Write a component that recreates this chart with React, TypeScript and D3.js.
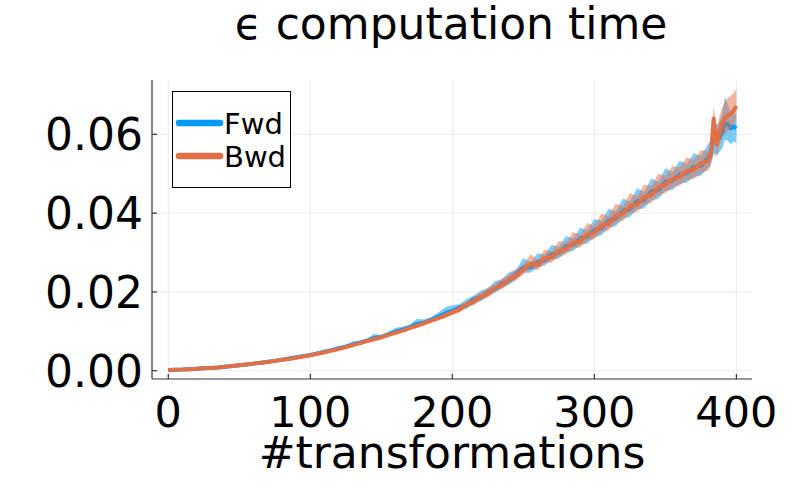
import React from "react";
import * as d3 from "d3";

const title = "ϵ computation time";
const xLabel = "#transformations";
const seriesNames = ["Fwd", "Bwd"];
const xTicks = [0, 100, 200, 300, 400];
const yTicks = [0.0, 0.02, 0.04, 0.06];
const yTickLabels = ["0.00", "0.02", "0.04", "0.06"];

const xs = [
  0, 5, 10, 15, 20, 25, 30, 35, 40, 45, 50, 55, 60, 65, 70, 75, 80, 85, 90, 95,
  100, 105, 110, 115, 120, 125, 130, 135, 140, 145, 150, 155, 160, 165, 170, 175, 180, 185, 190, 195,
  200, 205, 210, 215, 220, 225, 230, 235, 240, 245, 250, 255, 260, 265, 270, 275, 280, 285, 290, 295,
  300, 305, 310, 315, 320, 325, 330, 335, 340, 345, 350, 355, 360, 365, 370, 375, 380,
  382, 384, 386, 388, 390, 392, 394, 396, 398, 400,
];

const bwdMean = [
  0.0002, 0.00025, 0.0003, 0.0004, 0.0005, 0.0006, 0.0007, 0.0008, 0.001, 0.0012,
  0.0014, 0.0016, 0.0018, 0.002, 0.0022, 0.0025, 0.0028, 0.003, 0.0033, 0.0036,
  0.0039, 0.0043, 0.0047, 0.0051, 0.0055, 0.006, 0.0065, 0.007, 0.0075, 0.008,
  0.0085, 0.0091, 0.0096, 0.0102, 0.0108, 0.0114, 0.012, 0.0127, 0.0133, 0.014,
  0.0148, 0.0155, 0.0168, 0.0174, 0.0188, 0.0195, 0.021, 0.0217, 0.0233, 0.024,
  0.0256, 0.0272, 0.0268, 0.0286, 0.0288, 0.0304, 0.0309, 0.0325, 0.0328, 0.0346,
  0.035, 0.0369, 0.0373, 0.0393, 0.0398, 0.0418, 0.0422, 0.0441, 0.0446, 0.0466,
  0.0472, 0.0487, 0.0492, 0.0507, 0.051, 0.0526, 0.0532,
  0.0545, 0.064, 0.0575, 0.0605, 0.0628, 0.0642, 0.0648, 0.0652, 0.066, 0.0672,
];
const bwdUp = [
  0.0001, 0.0001, 0.0001, 0.0001, 0.0001, 0.0001, 0.0001, 0.0001, 0.0001, 0.0001,
  0.0001, 0.0001, 0.0002, 0.0001, 0.0002, 0.0002, 0.0002, 0.0002, 0.0002, 0.0002,
  0.0002, 0.0002, 0.0003, 0.0003, 0.0003, 0.0003, 0.0003, 0.0003, 0.0004, 0.0004,
  0.0004, 0.0004, 0.0004, 0.0004, 0.0005, 0.0005, 0.0005, 0.0006, 0.0005, 0.0007,
  0.0007, 0.0012, 0.0008, 0.0014, 0.0009, 0.0016, 0.001, 0.0017, 0.0011, 0.0019,
  0.0013, 0.0024, 0.0014, 0.0022, 0.0015, 0.0026, 0.0016, 0.0027, 0.0017, 0.0029,
  0.0018, 0.003, 0.0019, 0.0031, 0.002, 0.0033, 0.0021, 0.0032, 0.0022, 0.0034,
  0.0023, 0.0033, 0.0024, 0.0035, 0.0025, 0.0034, 0.0026,
  0.0028, 0.0032, 0.0035, 0.0038, 0.004, 0.0042, 0.0044, 0.0046, 0.0045, 0.0042,
];
const bwdDn = [
  0.0001, 0.0001, 0.0001, 0.0001, 0.0001, 0.0001, 0.0001, 0.0001, 0.0001, 0.0001,
  0.0001, 0.0001, 0.0001, 0.0001, 0.0001, 0.0002, 0.0002, 0.0002, 0.0002, 0.0002,
  0.0002, 0.0002, 0.0002, 0.0003, 0.0003, 0.0003, 0.0003, 0.0003, 0.0003, 0.0003,
  0.0004, 0.0004, 0.0004, 0.0004, 0.0004, 0.0004, 0.0005, 0.0005, 0.0005, 0.0005,
  0.0006, 0.0007, 0.0007, 0.0008, 0.0008, 0.0009, 0.0009, 0.001, 0.001, 0.0011,
  0.0011, 0.0013, 0.0012, 0.0013, 0.0013, 0.0014, 0.0014, 0.0015, 0.0015, 0.0016,
  0.0016, 0.0017, 0.0017, 0.0018, 0.0018, 0.0019, 0.0019, 0.002, 0.002, 0.0021,
  0.0021, 0.0022, 0.0022, 0.0023, 0.0023, 0.0024, 0.0024,
  0.0026, 0.0045, 0.0032, 0.0036, 0.0038, 0.004, 0.004, 0.0038, 0.0036, 0.0034,
];

const fwdMean = [
  0.0002, 0.00025, 0.0003, 0.0004, 0.0005, 0.0006, 0.0007, 0.0008, 0.001, 0.0012,
  0.0014, 0.0016, 0.0018, 0.002, 0.0023, 0.0025, 0.0028, 0.0031, 0.0034, 0.0037,
  0.004, 0.0044, 0.0048, 0.0052, 0.0057, 0.0061, 0.0067, 0.0071, 0.0076, 0.0083,
  0.0086, 0.0092, 0.0099, 0.0104, 0.011, 0.0119, 0.0122, 0.0129, 0.0137, 0.0146,
  0.0152, 0.0161, 0.0166, 0.0182, 0.0186, 0.0199, 0.0208, 0.0221, 0.023, 0.0245,
  0.0262, 0.0262, 0.0276, 0.0281, 0.0296, 0.03, 0.0316, 0.032, 0.0336, 0.034,
  0.0357, 0.0362, 0.0381, 0.0386, 0.0406, 0.041, 0.0431, 0.0433, 0.0455, 0.0458,
  0.048, 0.0482, 0.0499, 0.0501, 0.0517, 0.052, 0.054,
  0.055, 0.0595, 0.0585, 0.059, 0.0605, 0.063, 0.0625, 0.0615, 0.062, 0.0615,
];
const fwdUp = [
  0.0001, 0.0001, 0.0001, 0.0001, 0.0001, 0.0001, 0.0001, 0.0001, 0.0001, 0.0002,
  0.0001, 0.0002, 0.0001, 0.0002, 0.0002, 0.0002, 0.0003, 0.0003, 0.0003, 0.0003,
  0.0004, 0.0004, 0.0004, 0.0004, 0.0005, 0.0004, 0.0008, 0.0005, 0.0006, 0.0011,
  0.0005, 0.0006, 0.001, 0.0008, 0.0007, 0.0013, 0.0008, 0.0007, 0.0011, 0.0015,
  0.0014, 0.0008, 0.0016, 0.0009, 0.0017, 0.001, 0.0019, 0.0011, 0.002, 0.0012,
  0.0024, 0.0013, 0.0022, 0.0014, 0.0024, 0.0015, 0.0026, 0.0016, 0.0027, 0.0017,
  0.0028, 0.0018, 0.003, 0.0019, 0.0031, 0.002, 0.0032, 0.0021, 0.0033, 0.0022,
  0.0034, 0.0023, 0.0034, 0.0024, 0.0035, 0.0025, 0.0035,
  0.0036, 0.0045, 0.004, 0.0042, 0.0048, 0.0065, 0.005, 0.0042, 0.0038, 0.0035,
];
const fwdDn = [
  0.0001, 0.0001, 0.0001, 0.0001, 0.0001, 0.0001, 0.0001, 0.0001, 0.0001, 0.0001,
  0.0001, 0.0001, 0.0001, 0.0001, 0.0001, 0.0002, 0.0002, 0.0002, 0.0002, 0.0002,
  0.0002, 0.0002, 0.0002, 0.0003, 0.0003, 0.0003, 0.0003, 0.0003, 0.0003, 0.0004,
  0.0004, 0.0004, 0.0004, 0.0004, 0.0004, 0.0005, 0.0005, 0.0005, 0.0005, 0.0006,
  0.0008, 0.0008, 0.0009, 0.0009, 0.001, 0.001, 0.0011, 0.0011, 0.0012, 0.0012,
  0.0013, 0.0013, 0.0014, 0.0014, 0.0015, 0.0015, 0.0016, 0.0016, 0.0017, 0.0017,
  0.0018, 0.0018, 0.0019, 0.0019, 0.002, 0.002, 0.0021, 0.0021, 0.0022, 0.0022,
  0.0023, 0.0023, 0.0024, 0.0024, 0.0025, 0.0025, 0.0026,
  0.0028, 0.0045, 0.0038, 0.0036, 0.004, 0.0044, 0.0042, 0.004, 0.0038, 0.0036,
];

const colors = ["#009AFA", "#E36F47"];
const means = [fwdMean, bwdMean];
const ups = [fwdUp, bwdUp];
const dns = [fwdDn, bwdDn];

export default function App() {
  const W = 800;
  const H = 500;
  const left = 152;
  const right = 752;
  const top = 80;
  const bottom = 379;
  const x = d3.scaleLinear().domain([-11.48, 411.0]).range([left, right]);
  const y = d3.scaleLinear().domain([-0.0021, 0.0738]).range([bottom, top]);
  const font = "'DejaVu Sans', sans-serif";

  const idx = xs.map((_, i) => i);

  return (
    <svg
      width={W}
      height={H}
      style={{ position: "absolute", left: 0, top: 0, background: "#fff" }}
      fontFamily={font}
    >
      <rect x={0} y={0} width={W} height={H} fill="#fff" />
      {xTicks.map((t) => (
        <line key={"gx" + t} x1={x(t)} x2={x(t)} y1={top} y2={bottom} stroke="#000" strokeOpacity={0.1} strokeWidth={0.8} />
      ))}
      {yTicks.map((t) => (
        <line key={"gy" + t} x1={left} x2={right} y1={y(t)} y2={y(t)} stroke="#000" strokeOpacity={0.1} strokeWidth={0.8} />
      ))}
      {means.map((m, s) => {
        const area = d3
          .area<number>()
          .x((i) => x(xs[i]))
          .y0((i) => y(m[i] - dns[s][i]))
          .y1((i) => y(m[i] + ups[s][i]));
        const line = d3
          .line<number>()
          .x((i) => x(xs[i]))
          .y((i) => y(m[i]));
        return (
          <g key={"s" + s}>
            <path d={area(idx) || ""} fill={colors[s]} fillOpacity={0.5} stroke="none" />
            <path d={line(idx) || ""} fill="none" stroke={colors[s]} strokeWidth={4} strokeLinejoin="round" />
          </g>
        );
      })}
      <line x1={left} x2={left} y1={top} y2={bottom} stroke="#333" strokeWidth={1.2} />
      <line x1={left} x2={right} y1={bottom} y2={bottom} stroke="#333" strokeWidth={1.2} />
      {xTicks.map((t) => (
        <g key={"xt" + t}>
          <line x1={x(t)} x2={x(t)} y1={bottom} y2={bottom - 5} stroke="#333" strokeWidth={1.2} />
          <text x={x(t)} y={427} textAnchor="middle" fontSize={43} fill="#000">
            {t}
          </text>
        </g>
      ))}
      {yTicks.map((t, i) => (
        <g key={"yt" + t}>
          <line x1={left} x2={left + 5} y1={y(t)} y2={y(t)} stroke="#333" strokeWidth={1.2} />
          <text x={143} y={y(t)} dy="0.36em" textAnchor="end" fontSize={44} fill="#000">
            {yTickLabels[i]}
          </text>
        </g>
      ))}
      <text x={452} y={468} textAnchor="middle" fontSize={44} fill="#000">
        {xLabel}
      </text>
      <text x={451} y={39} textAnchor="middle" fontSize={44} fill="#000">
        {title}
      </text>
      <rect x={172.5} y={91.5} width={118} height={96} fill="#fff" stroke="#000" strokeWidth={1} />
      {seriesNames.map((n, i) => (
        <g key={"lg" + n}>
          <line x1={179} x2={220} y1={123 + i * 33} y2={123 + i * 33} stroke={colors[i]} strokeWidth={6.5} strokeLinecap="round" />
          <text x={224} y={134 + i * 33} fontSize={29} fill="#000">
            {n}
          </text>
        </g>
      ))}
    </svg>
  );
}
